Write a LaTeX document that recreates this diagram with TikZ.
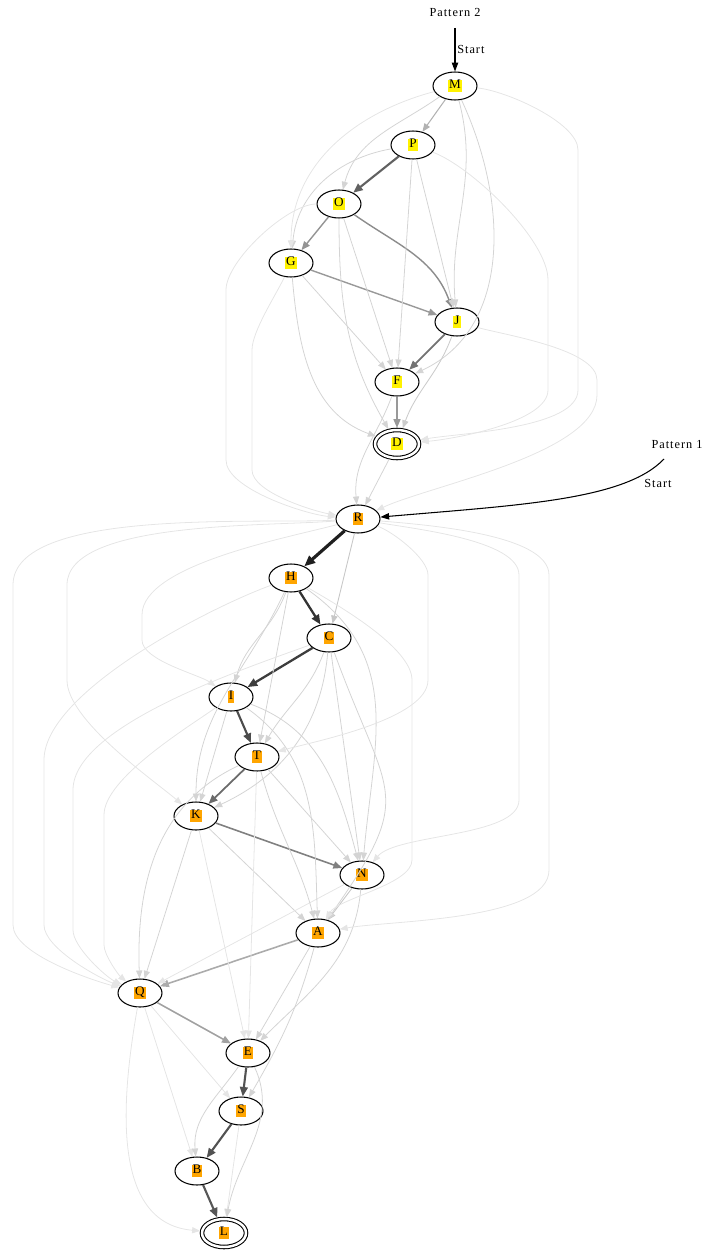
\documentclass[tikz,border=0pt]{standalone}
\usepackage{fontspec}
\setmainfont{Liberation Serif}
\newfontfamily\spaced[LetterSpace=8]{Liberation Serif}
\usetikzlibrary{shapes.geometric, arrows.meta}
\definecolor{gvorange}{HTML}{FFA500}
\setlength{\fboxsep}{0pt}
\newcommand{\hy}[1]{\colorbox{yellow}{\kern.6pt\vphantom{Mg}#1\kern.6pt}}
\newcommand{\ho}[1]{\colorbox{gvorange}{\kern.6pt\vphantom{Mg}#1\kern.6pt}}

\tikzset{
  state/.style={ellipse, draw, line width=.6pt, minimum width=8.8mm, minimum height=5.6mm,
    inner sep=0pt, font=\fontsize{7.5}{8}\selectfont},
  final/.style={state, double, double distance=1.4pt, outer sep=1.2pt},
  tr/.style 2 args={draw=black!#1, line width=#2, -{Triangle[length=4pt 1.2, width=3pt 1.2]}},
  lite/.style={tr={17}{.45pt}},
  faint/.style={tr={10}{.45pt}},
  lbl/.style={font=\spaced\fontsize{7}{8}\selectfont, inner sep=1pt},
  start/.style={-{Triangle[length=5pt, width=3.6pt]}, line width=.6pt},
}

\begin{document}
\begin{tikzpicture}[x=0.02cm, y=0.02cm]
\useasboundingbox (0,0) rectangle (702,-1253);

% pattern 2
\node[state] (M) at (455,-86) {\hy{M}};
\node[state] (P) at (413,-145) {\hy{P}};
\node[state] (O) at (339,-204) {\hy{O}};
\node[state] (G) at (291,-263) {\hy{G}};
\node[state] (J) at (457,-322) {\hy{J}};
\node[state] (F) at (397,-382) {\hy{F}};
\node[final] (D) at (397,-444) {\hy{D}};
% pattern 1
\node[state] (R) at (358,-519) {\ho{R}};
\node[state] (H) at (291,-578) {\ho{H}};
\node[state] (C) at (329,-638) {\ho{C}};
\node[state] (I) at (231,-697) {\ho{I}};
\node[state] (T) at (257,-757) {\ho{T}};
\node[state] (K) at (196,-816) {\ho{K}};
\node[state] (N) at (362,-875) {\ho{N}};
\node[state] (A) at (318,-933) {\ho{A}};
\node[state] (Q) at (140,-993) {\ho{Q}};
\node[state] (E) at (248,-1053) {\ho{E}};
\node[state] (S) at (241,-1111) {\ho{S}};
\node[state] (B) at (197,-1171) {\ho{B}};
\node[final] (L) at (224,-1233) {\ho{L}};

% entry points
\node[lbl] (pat2) at (455,-12) {Pattern 2};
\coordinate (s2) at (455,-28);
\draw[start] (s2) -- (M) node[lbl, midway, right] {Start};
\node[lbl] (pat1) at (677,-444) {Pattern 1};
\coordinate (s1) at (664,-459);
\draw[start] (s1) .. controls (625,-500) and (520,-505) .. (R);
\node[lbl] (st1) at (658,-483) {Start};

% frequent transitions
\draw[tr={30}{.6pt}] (M) -- (P);
\draw[tr={62}{1.2pt}] (P) -- (O);
\draw[tr={42}{.8pt}] (O) -- (G);
\draw[tr={45}{.8pt}] (O) to[out=-35,in=110] (J);
\draw[tr={40}{.8pt}] (G) -- (J);
\draw[tr={55}{1pt}] (J) -- (F);
\draw[tr={40}{.8pt}] (F) -- (D);
\draw[tr={20}{.5pt}] (J) to[out=-110,in=70] (D);

\draw[tr={88}{1.8pt}] (R) -- (H);
\draw[tr={80}{1.3pt}] (H) -- (C);
\draw[tr={76}{1.3pt}] (C) -- (I);
\draw[tr={70}{1.2pt}] (I) -- (T);
\draw[tr={58}{1pt}] (T) -- (K);
\draw[tr={50}{.9pt}] (K) -- (N);
\draw[tr={22}{.5pt}] (N) -- (A);
\draw[tr={22}{.5pt}] (R) -- (C);
\draw[tr={33}{.9pt}] (A) -- (Q);
\draw[tr={37}{.9pt}] (Q) -- (E);
\draw[tr={68}{1.2pt}] (E) -- (S);
\draw[tr={68}{1.2pt}] (S) -- (B);
\draw[tr={66}{1.2pt}] (B) -- (L);

% rare transitions, straight
\foreach \a/\b in {P/J, P/F, O/F, G/F, D/R, H/T, I/K, C/N, T/N, K/A, K/Q, A/E}
  \draw[lite] (\a) -- (\b);
\foreach \a/\b in {N/Q, K/E, T/E, Q/S, Q/B, S/L}
  \draw[faint] (\a) -- (\b);

% rare transitions, bent
\foreach \a/\b/\o/\i in {M/O/215/75, M/J/-75/95, M/F/-65/25, P/G/190/85, O/D/-90/120,
    G/D/-85/160, F/R/-110/95, H/I/-110/75, H/K/-115/90, C/T/-110/60, C/K/-95/25,
    I/N/-20/105, I/A/-35/92, T/A/-75/105, T/Q/205/92, N/E/-95/45, A/S/-105/60,
    E/B/-125/95, E/L/-65/80}
  \draw[lite] (\a) to[out=\o,in=\i] (\b);
\draw[faint] (M) to[out=195,in=90] (G);
\draw[lite] (H) to[out=-35,in=85,looseness=1.1] (N);
\draw[lite] (C) to[out=-70,in=55,looseness=1.5] (A);
\draw[faint] (Q) to[out=-100,in=175] (L);

% long detours round the sides
\foreach \a/\b/\x/\ya/\yb/\o/\i in {M/D/578/150/390/-5/10, P/D/548/280/390/-20/5,
    O/R/226/290/460/180/175, G/R/252/350/470/-115/170, J/R/597/380/395/-15/25,
    R/Q/13/585/925/183/165, R/K/67/585/680/185/140, R/I/142/615/640/195/145,
    H/Q/44/760/925/200/160, C/Q/73/790/930/200/155, I/Q/104/815/945/215/140,
    R/T/428/575/680/-20/15, R/N/519/575/800/-10/50, R/A/549/575/870/-5/10,
    H/A/412/680/860/-30/60}
  \draw[faint] (\a) to[out=\o,in=90,looseness=.6] (\x,-\ya) -- (\x,-\yb)
    to[out=270,in=\i,looseness=.6] (\b);
\end{tikzpicture}
\end{document}
